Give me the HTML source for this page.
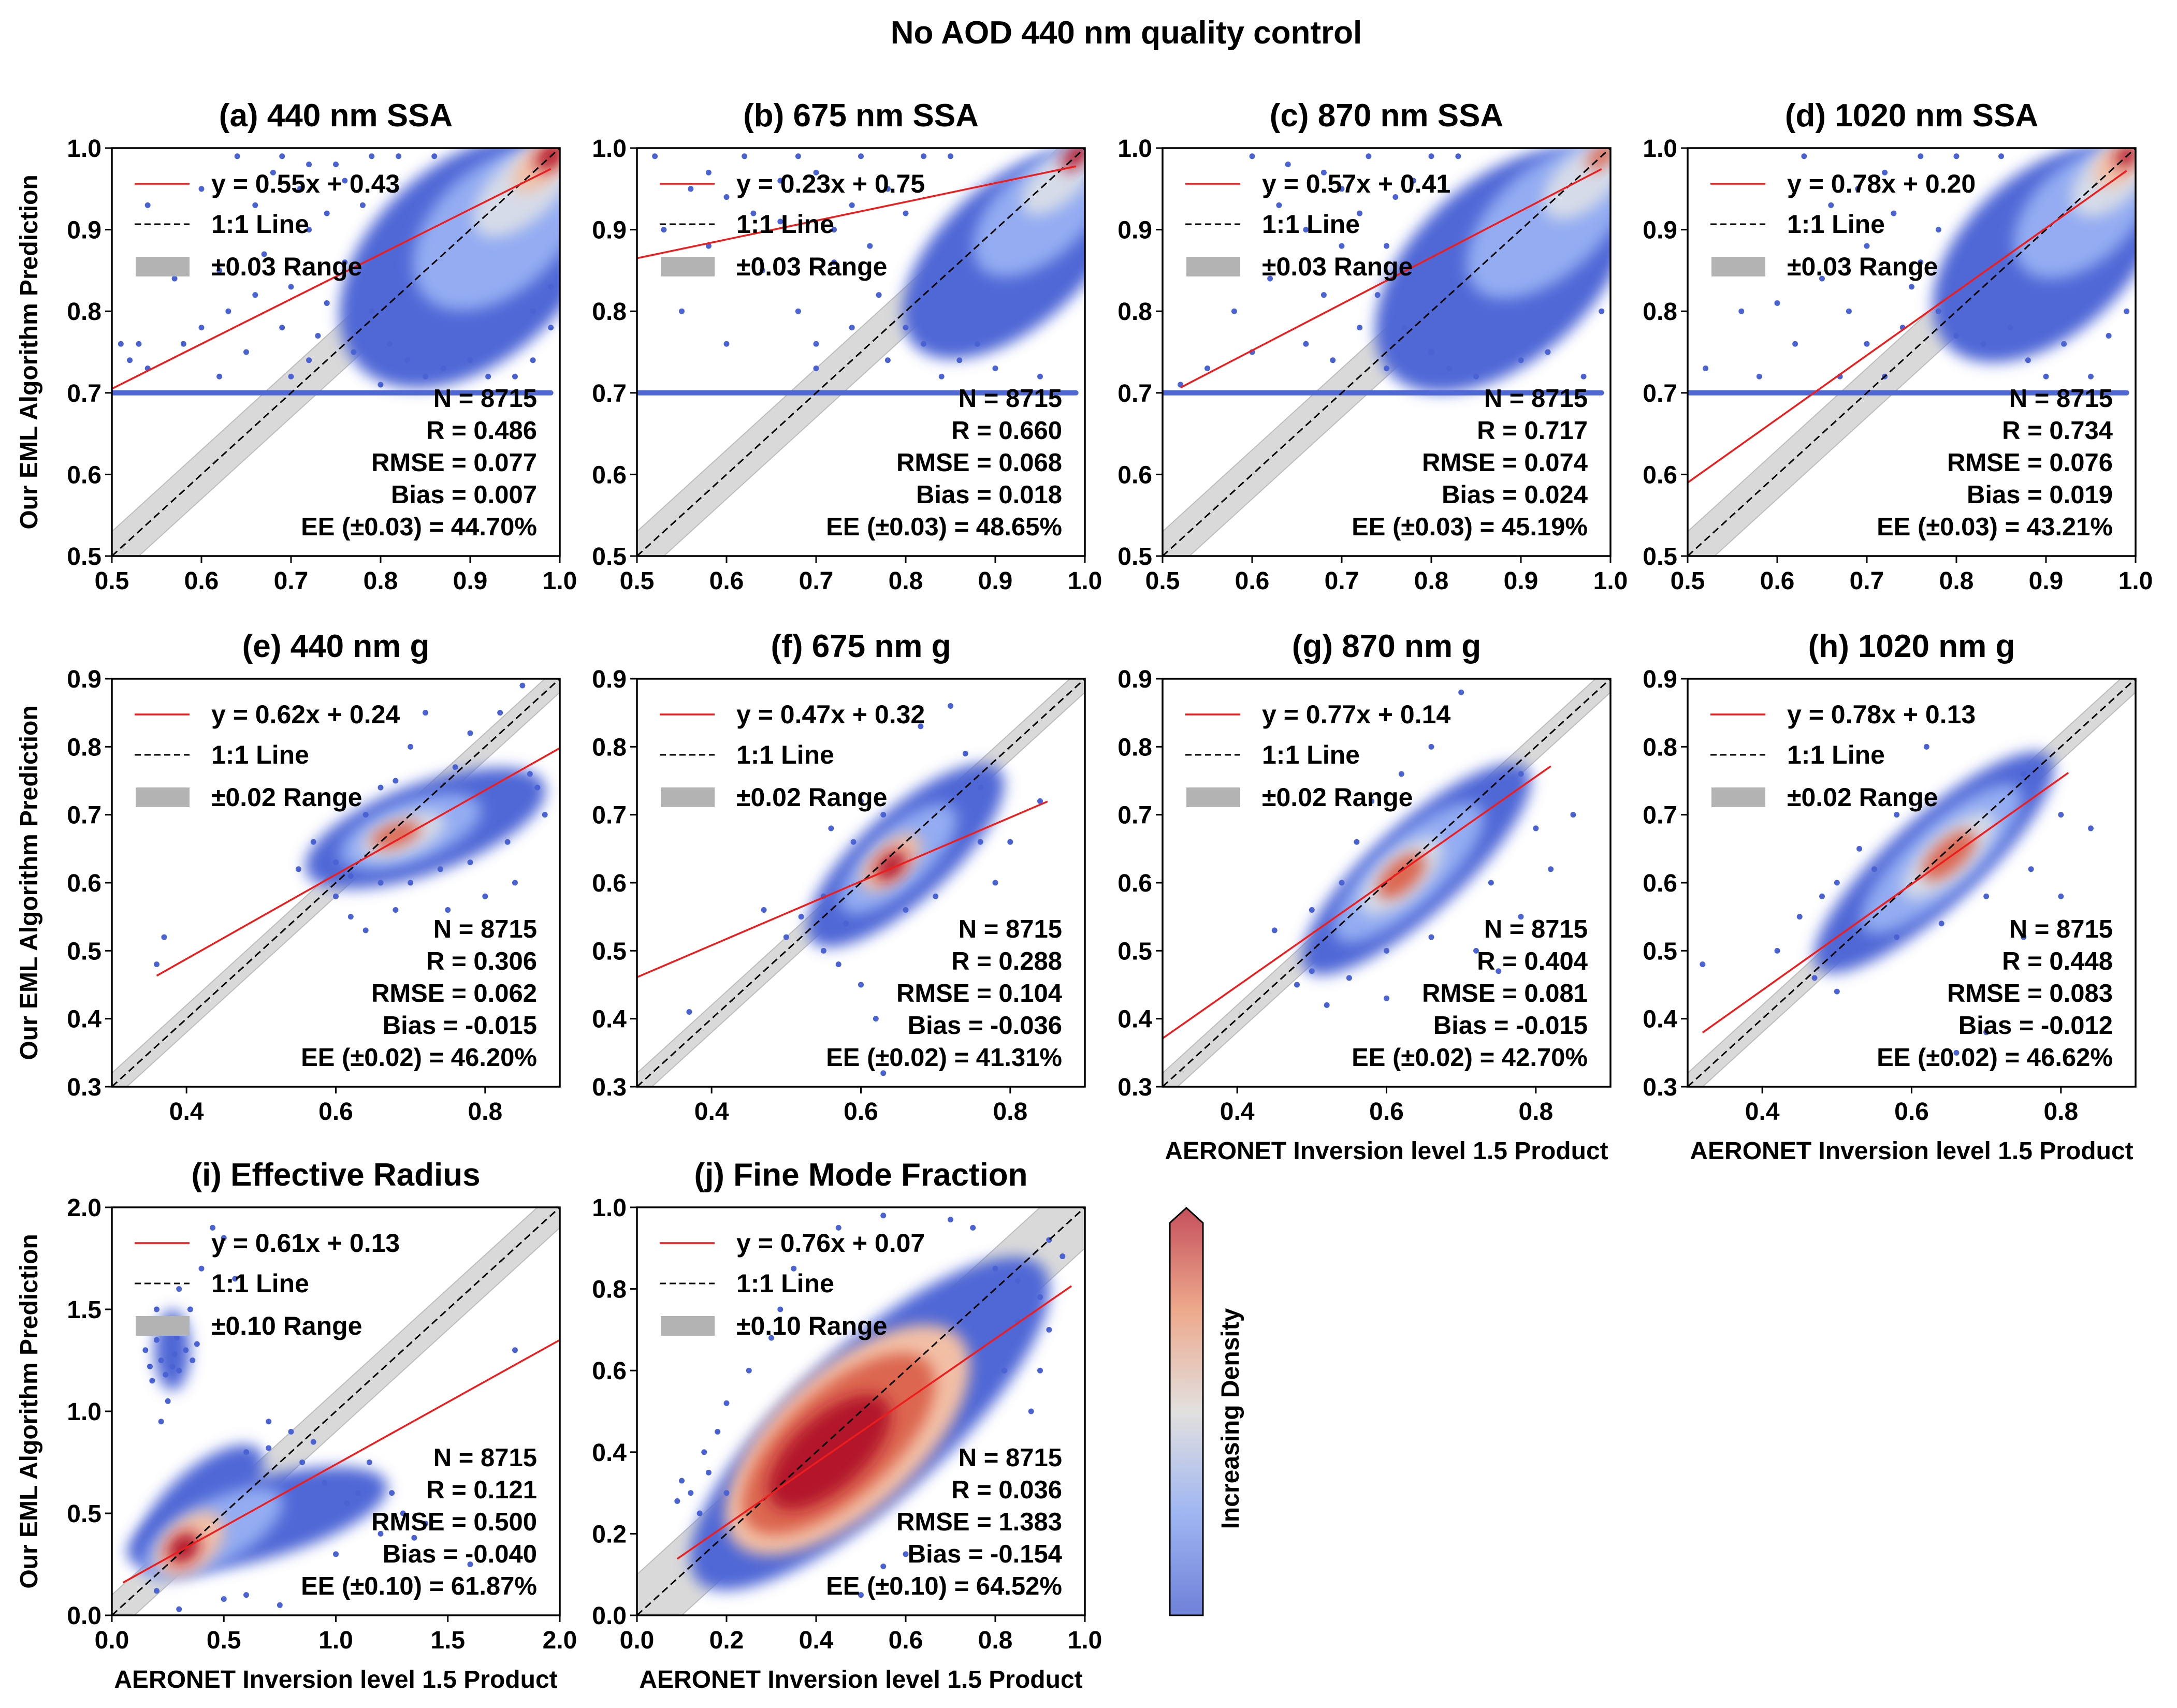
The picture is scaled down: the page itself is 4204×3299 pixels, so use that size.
<!DOCTYPE html>
<html><head><meta charset="utf-8">
<style>
html,body{margin:0;padding:0;background:#fff;}
svg{display:block;font-family:"Liberation Sans","DejaVu Sans",sans-serif;font-weight:bold;}
</style></head>
<body>
<svg id="fig" width="4204" height="3299" viewBox="0 0 4204 3299" xmlns="http://www.w3.org/2000/svg">
<defs>
<filter id="blur" x="-50%" y="-50%" width="200%" height="200%"><feGaussianBlur stdDeviation="14"/></filter>
<linearGradient id="cbar" x1="0" y1="1" x2="0" y2="0">
<stop offset="0" stop-color="#6f80d8"/><stop offset="0.25" stop-color="#9fb6f2"/>
<stop offset="0.5" stop-color="#e2e0df"/><stop offset="0.75" stop-color="#eda98c"/>
<stop offset="1" stop-color="#c5505c"/></linearGradient>
</defs>
<text x="2175" y="84" font-size="62" text-anchor="middle">No AOD 440 nm quality control</text>
</svg>
<script>
// ---- data ----
const titles = ["(a) 440 nm SSA","(b) 675 nm SSA","(c) 870 nm SSA","(d) 1020 nm SSA","(e) 440 nm g","(f) 675 nm g","(g) 870 nm g","(h) 1020 nm g","(i) Effective Radius","(j) Fine Mode Fraction"];
const axMin = [0.5,0.5,0.5,0.5,0.3,0.3,0.3,0.3,0,0];
const axMax = [1,1,1,1,0.9,0.9,0.9,0.9,2,1];
const xTicks = [[0.5,0.6,0.7,0.8,0.9,1.0],[0.5,0.6,0.7,0.8,0.9,1.0],[0.5,0.6,0.7,0.8,0.9,1.0],[0.5,0.6,0.7,0.8,0.9,1.0],[0.4,0.6,0.8],[0.4,0.6,0.8],[0.4,0.6,0.8],[0.4,0.6,0.8],[0,0.5,1.0,1.5,2.0],[0,0.2,0.4,0.6,0.8,1.0]];
const yTicks = [[0.5,0.6,0.7,0.8,0.9,1.0],[0.5,0.6,0.7,0.8,0.9,1.0],[0.5,0.6,0.7,0.8,0.9,1.0],[0.5,0.6,0.7,0.8,0.9,1.0],[0.3,0.4,0.5,0.6,0.7,0.8,0.9],[0.3,0.4,0.5,0.6,0.7,0.8,0.9],[0.3,0.4,0.5,0.6,0.7,0.8,0.9],[0.3,0.4,0.5,0.6,0.7,0.8,0.9],[0,0.5,1.0,1.5,2.0],[0,0.2,0.4,0.6,0.8,1.0]];
const slopes = [0.55,0.23,0.57,0.78,0.62,0.47,0.77,0.78,0.61,0.76];
const intercepts = [0.43,0.75,0.41,0.20,0.24,0.32,0.14,0.13,0.13,0.07];
const fitX0 = [0.5,0.3,0.52,0.5,0.36,0.3,0.3,0.32,0.05,0.09];
const fitX1 = [0.99,0.99,0.99,0.99,0.9,0.85,0.82,0.81,2.0,0.97];
const bandHalf = [0.03,0.03,0.03,0.03,0.02,0.02,0.02,0.02,0.10,0.10];
const statN = ["8715","8715","8715","8715","8715","8715","8715","8715","8715","8715"];
const statR = ["0.486","0.660","0.717","0.734","0.306","0.288","0.404","0.448","0.121","0.036"];
const statRMSE = ["0.077","0.068","0.074","0.076","0.062","0.104","0.081","0.083","0.500","1.383"];
const statBias = ["0.007","0.018","0.024","0.019","-0.015","-0.036","-0.015","-0.012","-0.040","-0.154"];
const statEE = ["44.70%","48.65%","45.19%","43.21%","46.20%","41.31%","42.70%","46.62%","61.87%","64.52%"];
// horizontal row of retrievals at 0.7 (SSA panels): [xStart, xEnd]
const floorRow = [[0.5,0.99],[0.5,0.99],[0.5,0.99],[0.5,0.99]];
// density clouds: [cx, cy, halfLength, halfWidth, level, dataSlope]
const clouds = [
 [[0.9,0.86,0.17,0.11,0,1],[0.93,0.9,0.11,0.07,1,1],[0.96,0.95,0.07,0.035,2,1],[0.98,0.98,0.04,0.02,3,1],[0.99,0.99,0.02,0.012,5,1]],
 [[0.92,0.87,0.15,0.08,0,1],[0.95,0.92,0.09,0.05,1,1],[0.97,0.96,0.05,0.025,2,1],[0.99,0.99,0.02,0.01,5,1]],
 [[0.88,0.85,0.17,0.1,0,1],[0.93,0.91,0.11,0.06,1,1],[0.97,0.96,0.055,0.03,2,1],[0.99,0.99,0.02,0.01,4,1]],
 [[0.9,0.87,0.15,0.09,0,1],[0.94,0.92,0.09,0.055,1,1],[0.97,0.96,0.05,0.03,2,1],[0.98,0.98,0.03,0.02,3,1],[0.99,0.99,0.015,0.01,5,1]],
 [[0.72,0.68,0.17,0.06,0,0.4],[0.7,0.675,0.1,0.04,1,0.4],[0.69,0.67,0.06,0.025,2,0.4],[0.68,0.67,0.035,0.015,4,0.4]],
 [[0.66,0.64,0.17,0.06,0,1],[0.65,0.635,0.1,0.04,1,1],[0.64,0.63,0.05,0.025,3,1],[0.64,0.625,0.025,0.015,5,1]],
 [[0.64,0.62,0.2,0.06,0,1],[0.63,0.615,0.13,0.045,1,1],[0.62,0.61,0.07,0.03,2,1],[0.62,0.61,0.04,0.02,4,1]],
 [[0.63,0.63,0.21,0.06,0,1],[0.64,0.635,0.14,0.045,1,1],[0.65,0.64,0.08,0.03,2,1],[0.65,0.64,0.045,0.02,4,1]],
 [[0.65,0.47,0.6,0.18,0,0.3],[0.4,0.55,0.35,0.15,0,1],[0.45,0.4,0.35,0.14,1,0.6],[0.35,0.35,0.18,0.11,3,1],[0.32,0.33,0.08,0.06,5,1],[0.27,1.3,0.08,0.18,0,0]],
 [[0.52,0.47,0.52,0.17,0,1],[0.47,0.43,0.34,0.16,3,1],[0.45,0.42,0.27,0.12,4,1],[0.43,0.4,0.17,0.08,5,1]]
];
// sparse outliers [x, y]
const outliers = [
 [[0.51,0.76],[0.53,0.76],[0.54,0.73],[0.52,0.74],[0.58,0.76],[0.6,0.78],[0.63,0.8],[0.62,0.85],[0.57,0.84],[0.54,0.93],[0.6,0.95],[0.66,0.93],[0.67,0.87],[0.7,0.83],[0.72,0.9],[0.75,0.98],[0.69,0.99],[0.64,0.99],[0.78,0.93],[0.77,0.75],[0.8,0.71],[0.73,0.77],[0.82,0.99],[0.86,0.99],[0.65,0.75],[0.85,0.72],[0.97,0.74],[0.95,0.72],[0.62,0.72],[0.7,0.72],[0.68,0.97],[0.71,0.95],[0.74,0.92],[0.76,0.86],[0.74,0.81],[0.79,0.8],[0.81,0.76],[0.83,0.74],[0.87,0.73],[0.9,0.74],[0.92,0.72],[0.99,0.78],[0.99,0.83],[0.97,0.8],[0.76,0.96],[0.79,0.99],[0.72,0.98],[0.66,0.82],[0.69,0.78],[0.72,0.74]],
 [[0.52,0.99],[0.56,0.95],[0.6,0.94],[0.62,0.99],[0.66,0.91],[0.7,0.97],[0.74,0.93],[0.58,0.88],[0.53,0.9],[0.64,0.85],[0.68,0.8],[0.72,0.86],[0.75,0.99],[0.78,0.95],[0.8,0.78],[0.6,0.76],[0.55,0.8],[0.78,0.74],[0.9,0.73],[0.95,0.72],[0.68,0.99],[0.85,0.99],[0.82,0.99],[0.7,0.73],[0.72,0.9],[0.76,0.88],[0.8,0.92],[0.74,0.78],[0.77,0.82],[0.82,0.76],[0.86,0.74],[0.88,0.76],[0.66,0.96],[0.63,0.92],[0.58,0.97],[0.7,0.76],[0.84,0.72]],
 [[0.52,0.71],[0.55,0.73],[0.6,0.75],[0.58,0.8],[0.62,0.84],[0.66,0.9],[0.7,0.95],[0.64,0.98],[0.73,0.99],[0.68,0.82],[0.72,0.78],[0.75,0.88],[0.78,0.96],[0.8,0.99],[0.56,0.86],[0.63,0.93],[0.75,0.73],[0.9,0.74],[0.97,0.72],[0.85,0.72],[0.6,0.99],[0.7,0.88],[0.72,0.92],[0.74,0.82],[0.77,0.78],[0.8,0.75],[0.82,0.73],[0.66,0.76],[0.69,0.74],[0.76,0.94],[0.68,0.97],[0.99,0.8],[0.93,0.75],[0.83,0.99]],
 [[0.52,0.73],[0.58,0.72],[0.62,0.76],[0.6,0.81],[0.65,0.84],[0.68,0.8],[0.7,0.88],[0.66,0.93],[0.72,0.97],[0.75,0.83],[0.78,0.9],[0.74,0.78],[0.8,0.99],[0.63,0.99],[0.85,0.99],[0.56,0.8],[0.88,0.74],[0.95,0.72],[0.92,0.76],[0.72,0.72],[0.69,0.95],[0.73,0.92],[0.76,0.86],[0.78,0.8],[0.8,0.77],[0.83,0.76],[0.86,0.78],[0.7,0.76],[0.67,0.72],[0.76,0.99],[0.99,0.8],[0.97,0.77],[0.9,0.72]],
 [[0.36,0.48],[0.37,0.52],[0.55,0.62],[0.57,0.66],[0.6,0.58],[0.62,0.55],[0.64,0.53],[0.66,0.74],[0.7,0.8],[0.78,0.82],[0.82,0.85],[0.85,0.89],[0.84,0.6],[0.88,0.7],[0.8,0.58],[0.75,0.56],[0.72,0.85],[0.86,0.76],[0.68,0.56],[0.6,0.63],[0.62,0.61],[0.66,0.6],[0.7,0.6],[0.74,0.62],[0.78,0.63],[0.83,0.66],[0.87,0.74],[0.76,0.77],[0.68,0.75],[0.64,0.7]],
 [[0.37,0.41],[0.47,0.56],[0.5,0.52],[0.52,0.55],[0.55,0.5],[0.57,0.48],[0.6,0.45],[0.62,0.4],[0.63,0.32],[0.68,0.83],[0.72,0.86],[0.74,0.79],[0.78,0.6],[0.8,0.66],[0.84,0.72],[0.6,0.72],[0.56,0.68],[0.55,0.58],[0.58,0.54],[0.66,0.56],[0.7,0.58],[0.76,0.66],[0.76,0.74],[0.63,0.7],[0.59,0.66]],
 [[0.45,0.53],[0.48,0.45],[0.5,0.47],[0.52,0.42],[0.55,0.46],[0.58,0.72],[0.62,0.76],[0.66,0.8],[0.7,0.88],[0.72,0.5],[0.78,0.55],[0.82,0.62],[0.75,0.47],[0.85,0.7],[0.6,0.43],[0.5,0.56],[0.54,0.6],[0.56,0.66],[0.6,0.5],[0.66,0.52],[0.74,0.6],[0.8,0.68],[0.78,0.76]],
 [[0.32,0.48],[0.42,0.5],[0.45,0.55],[0.47,0.46],[0.5,0.44],[0.55,0.62],[0.58,0.7],[0.62,0.8],[0.66,0.35],[0.7,0.38],[0.75,0.52],[0.8,0.58],[0.84,0.68],[0.48,0.58],[0.5,0.6],[0.53,0.65],[0.58,0.52],[0.64,0.54],[0.7,0.58],[0.76,0.62],[0.8,0.7],[0.75,0.76]],
 [[0.15,1.3],[0.2,1.35],[0.22,1.25],[0.25,1.4],[0.28,1.28],[0.3,1.2],[0.18,1.15],[0.12,1.45],[0.35,1.5],[0.38,1.33],[0.25,1.05],[0.22,0.95],[0.3,1.6],[0.4,1.7],[0.5,1.85],[0.55,1.65],[0.45,1.9],[0.27,1.22],[0.33,1.3],[0.2,1.5],[0.7,0.95],[0.8,0.9],[0.9,0.85],[1.1,0.6],[1.3,0.5],[1.2,0.4],[1.4,0.45],[1.6,0.25],[1.8,1.3],[0.3,0.03],[0.5,0.08],[0.6,0.1],[0.2,0.12],[0.75,0.05],[1.0,0.3],[1.15,0.75],[0.24,1.18],[0.29,1.36],[0.17,1.22],[0.32,1.42],[0.36,1.25],[0.6,0.8],[0.7,0.82],[0.85,0.75],[0.95,0.65],[1.05,0.55],[1.25,0.6],[1.35,0.38]],
 [[0.09,0.28],[0.12,0.3],[0.1,0.33],[0.15,0.4],[0.18,0.45],[0.2,0.52],[0.25,0.6],[0.3,0.68],[0.32,0.75],[0.35,0.85],[0.45,0.95],[0.55,0.98],[0.7,0.97],[0.75,0.95],[0.85,0.72],[0.9,0.6],[0.88,0.5],[0.6,0.15],[0.55,0.12],[0.5,0.05],[0.95,0.88],[0.92,0.92],[0.14,0.25],[0.16,0.35],[0.2,0.3],[0.85,0.82],[0.9,0.78],[0.82,0.6],[0.92,0.7],[0.8,0.85]]
];
// ---- layout ----
const lefts = [216,1230,2245,3259], tops = [286,1311,2332], W = 865, H = 788;
const levelColors = ['#5068d6','#93acf2','#d6dbe8','#f2bfa5','#dc6650','#b3132a'];
const NS = "http://www.w3.org/2000/svg";
const svg = document.getElementById('fig');
function mk(tag, attrs, parent){const e=document.createElementNS(NS,tag);for(const k in attrs)e.setAttribute(k,attrs[k]);(parent||svg).appendChild(e);return e;}
function fmt(v){ return v.toFixed(1); }

for(let p=0;p<10;p++){
  const col=p%4,row=Math.floor(p/4);
  const L=lefts[col],T=tops[row];
  const lo=axMin[p],hi=axMax[p];
  const sx=v=>L+(v-lo)/(hi-lo)*W;
  const sy=v=>T+H-(v-lo)/(hi-lo)*H;
  const g=mk('g',{});
  
  
  const cp=mk('clipPath',{id:'cp'+p},g); mk('rect',{x:L,y:T,width:W,height:H},cp);
  const plot=mk('g',{'clip-path':'url(#cp'+p+')'},g);
  const b=bandHalf[p];
  const band=mk('polygon',{points:[[lo,lo-b],[hi,hi-b],[hi,hi+b],[lo,lo+b]].map(q=>sx(q[0])+','+sy(q[1])).join(' '),fill:'#d9d9d9',stroke:'#bdbdbd','stroke-width':2},plot);
  
  
  if(p<4){const fr=floorRow[p];
    const l=mk('line',{x1:sx(fr[0]),y1:sy(0.7),x2:sx(fr[1]),y2:sy(0.7),stroke:'#4f68d4','stroke-width':10,'stroke-linecap':'round'},plot);
    
    }
  clouds[p].forEach(c=>{
    const [cx,cy,a,bw,lev,sl]=c;
    const px=sx(cx),py=sy(cy);
    const ang=Math.atan2(-(sy(cy+sl*0.1)-py),(sx(cx+0.1)-px));
    const s=W/(hi-lo);
    const e=mk('ellipse',{cx:px,cy:py,rx:a*s,ry:bw*s,fill:levelColors[lev],filter:'url(#blur)',
      transform:'rotate('+(-ang*180/Math.PI)+' '+px+' '+py+')'},plot);
    
    
  });
  outliers[p].forEach(q=>{const c=mk('circle',{cx:sx(q[0]),cy:sy(q[1]),r:5.5,fill:'#4a62d2'},plot);
    
    });
  const one=mk('line',{x1:sx(lo),y1:sy(lo),x2:sx(hi),y2:sy(hi),stroke:'#000','stroke-width':3,'stroke-dasharray':'14 8'},plot);
  
  
  const fl=mk('line',{x1:sx(fitX0[p]),y1:sy(slopes[p]*fitX0[p]+intercepts[p]),x2:sx(fitX1[p]),y2:sy(slopes[p]*fitX1[p]+intercepts[p]),stroke:'#ee1c1c','stroke-width':3.5},plot);
  
  
  const fr=mk('rect',{x:L,y:T,width:W,height:H,fill:'none',stroke:'#000','stroke-width':3.5},g);
  
  
  xTicks[p].forEach(v=>{mk('line',{x1:sx(v),y1:T+H,x2:sx(v),y2:T+H+13,stroke:'#000','stroke-width':3},g);
    const t=mk('text',{x:sx(v),y:T+H+64,'font-size':48,'text-anchor':'middle'},g);t.textContent=fmt(v);
    
    });
  yTicks[p].forEach(v=>{mk('line',{x1:L-13,y1:sy(v),x2:L,y2:sy(v),stroke:'#000','stroke-width':3},g);
    const t=mk('text',{x:L-20,y:sy(v)+17,'font-size':48,'text-anchor':'end'},g);t.textContent=fmt(v);
    
    });
  const tt=mk('text',{x:L+W/2,y:T-42,'font-size':62,'text-anchor':'middle'},g);tt.textContent=titles[p];
  
  
  const lg=mk('g',{},g);
  
  
  mk('line',{x1:L+44,y1:T+69,x2:L+150,y2:T+69,stroke:'#ee1c1c','stroke-width':3.5},lg);
  mk('line',{x1:L+44,y1:T+147,x2:L+150,y2:T+147,stroke:'#000','stroke-width':3,'stroke-dasharray':'12 7'},lg);
  mk('rect',{x:L+46,y:T+210,width:104,height:38,fill:'#b3b3b3'},lg);
  const bs=b.toFixed(2);
  [['y = '+slopes[p].toFixed(2)+'x + '+intercepts[p].toFixed(2),69],['1:1 Line',147],['\u00b1'+bs+' Range',229]].forEach(r=>{
    const t=mk('text',{x:L+192,y:T+r[1]+17,'font-size':50},lg);t.textContent=r[0];
    
    });
  const lines=['N = '+statN[p],'R = '+statR[p],'RMSE = '+statRMSE[p],'Bias = '+statBias[p],'EE (\u00b1'+bs+') = '+statEE[p]];
  lines.forEach((s,k)=>{const t=mk('text',{x:L+W-44,y:T+H-40-62*(4-k),'font-size':49,'text-anchor':'end'},g);t.textContent=s;
    
    });
}
[tops[0],tops[1],tops[2]].forEach(T=>{const t=mk('text',{x:0,y:0,'font-size':48,'text-anchor':'middle',transform:'translate(72,'+(T+H/2)+') rotate(-90)'});
  t.textContent='Our EML Algorithm Prediction';
  
  });
[[2,1],[3,1],[0,2],[1,2]].forEach(q=>{const t=mk('text',{x:lefts[q[0]]+W/2,y:tops[q[1]]+H+140,'font-size':48,'text-anchor':'middle'});
  t.textContent='AERONET Inversion level 1.5 Product';
  
  });
const cb=mk('g',{});


mk('polygon',{points:'2259,3120 2323,3120 2323,2362 2291,2333 2259,2362',fill:'url(#cbar)',stroke:'#000','stroke-width':3},cb);
const cl=mk('text',{x:0,y:0,'font-size':48,'text-anchor':'middle',transform:'translate(2392,2740) rotate(-90)'},cb);
cl.textContent='Increasing Density';


</script>
</body></html>
